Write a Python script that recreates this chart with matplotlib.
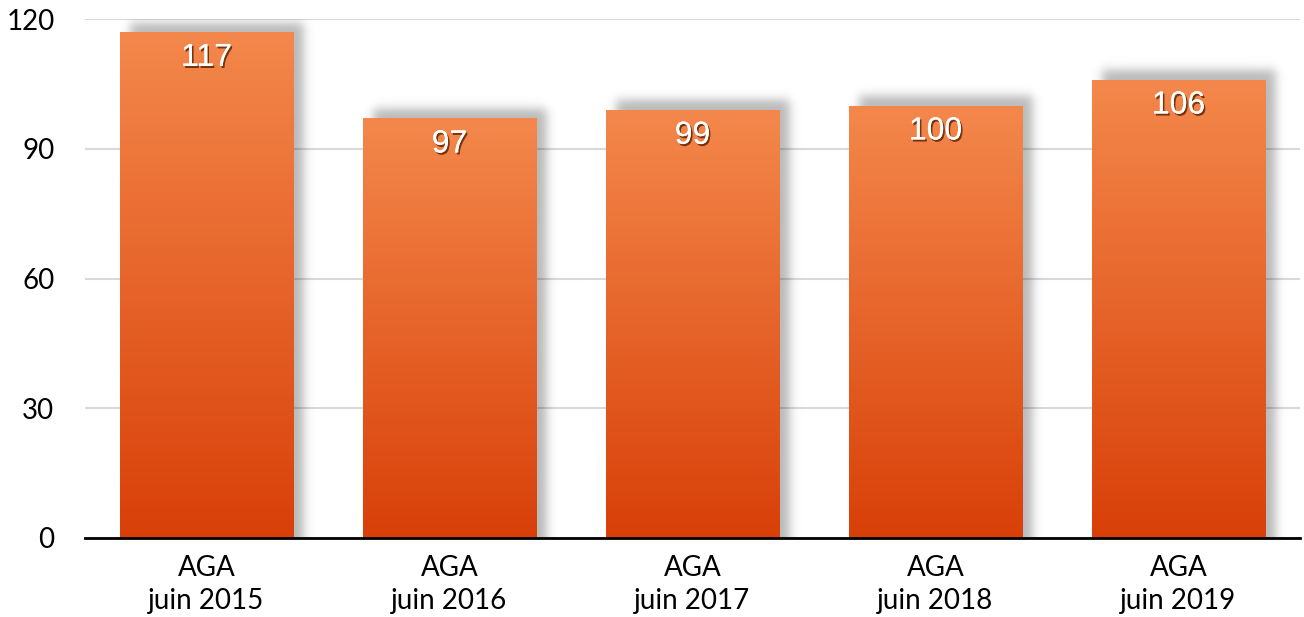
import matplotlib
matplotlib.use("Agg")
import matplotlib.pyplot as plt
import matplotlib.patheffects as pe
from matplotlib.patches import Rectangle
import numpy as np

categories = ["AGA\njuin 2015", "AGA\njuin 2016", "AGA\njuin 2017", "AGA\njuin 2018", "AGA\njuin 2019"]
values = [117, 97, 99, 100, 106]
yticks = [0, 30, 60, 90, 120]

plt.rcParams['font.family'] = ['Lato', 'DejaVu Sans']

fig = plt.figure(figsize=(13.04, 6.17), dpi=100)
ax = fig.add_axes([85/1304, 1 - 538/617, 1215/1304, 519/617])
ax.set_xlim(-0.5, len(values) - 0.5)
ax.set_ylim(0, 120)

px_x = 1215 / 5      # pixels per x unit
px_y = 519 / 120     # pixels per y unit

width = 0.716
top_c = np.array([0xF4, 0x88, 0x4C]) / 255
bot_c = np.array([0xD8, 0x40, 0x08]) / 255
grad = np.linspace(0, 1, 256)[:, None]
grad_img = bot_c[None, None, :] * (1 - grad[..., None]) + top_c[None, None, :] * grad[..., None]


def soft_box(coord, a, b, s):
    return 0.5 * (np.tanh((coord - a) / s) - np.tanh((coord - b) / s))


x = np.arange(len(values))
for xi, v in zip(x, values):
    # blurred drop shadow (computed in pixel units)
    bl = (xi - width / 2) * px_x
    br = (xi + width / 2) * px_x
    bt = v * px_y
    pad_x, pad_y = 30, 30
    xs = np.linspace(bl - pad_x, br + pad_x, 260)
    ys = np.linspace(0, bt + pad_y, 300)
    fx = soft_box(xs, bl + 10, br + 10, 6.0)
    fy = soft_box(ys, -50, bt + 10, 6.0)
    alpha = 0.28 * fy[:, None] * fx[None, :]
    rgba = np.zeros((len(ys), len(xs), 4))
    rgba[..., 3] = alpha
    ax.imshow(rgba, extent=(xs[0] / px_x, xs[-1] / px_x, 0, ys[-1] / px_y), origin='lower',
              aspect='auto', zorder=1, interpolation='bilinear')

    bar = Rectangle((xi - width / 2, 0), width, v, facecolor='none', edgecolor='none', zorder=3)
    ax.add_patch(bar)
    im = ax.imshow(grad_img, extent=(xi - width / 2, xi + width / 2, 0, v), origin='lower',
                   aspect='auto', zorder=3)
    im.set_clip_path(bar)
    ax.text(xi, v - 6.0, f"{v}", ha='center', va='center', color='white', fontsize=23,
            family=['Liberation Sans', 'DejaVu Sans'], zorder=5,
            path_effects=[pe.withSimplePatchShadow(offset=(1.2, -1.5), shadow_rgbFace='#5a2000', alpha=0.8),
                          pe.Normal()])

ax.set_aspect('auto')
ax.set_xlim(-0.5, len(values) - 0.5)
ax.set_ylim(0, 120)
ax.set_yticks(yticks)
ax.set_yticklabels([str(t) for t in yticks], fontsize=20)
ax.set_xticks(x)
ax.set_xticklabels(categories, fontsize=20, linespacing=1.35)
ax.grid(axis='y', color='#d9d9d9', linewidth=1.5, zorder=0)
ax.set_axisbelow(True)
for s in ['top', 'right', 'left']:
    ax.spines[s].set_visible(False)
ax.spines['bottom'].set_linewidth(2)
ax.spines['bottom'].set_color('black')
ax.spines['bottom'].set_zorder(6)
ax.tick_params(axis='both', length=0, colors='black')
ax.tick_params(axis='y', pad=22)
ax.tick_params(axis='x', pad=12)

fig.savefig("out.png", dpi=100)
